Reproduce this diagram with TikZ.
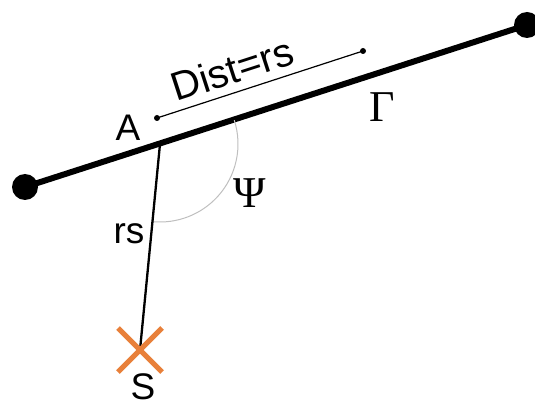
\documentclass[tikz,border=0pt]{standalone}
\usepackage{fontspec}
\setmainfont{Liberation Sans}
\newfontfamily\greekfont{Liberation Serif}
\usetikzlibrary{calc}

\definecolor{crossorange}{RGB}{232,128,58}

\begin{document}
\begin{tikzpicture}[x=1pt, y=1pt,
					gammaline/.style={line width=6pt},
					endpoint/.style={circle, fill=black, inner sep=0pt, minimum size=26pt},
					rayline/.style={line width=2.3pt},
					distline/.style={line width=1.2pt},
					tickdot/.style={circle, fill=black, inner sep=0pt, minimum size=6pt},
					anglearc/.style={black!25, line width=1pt},
					crossmark/.style={crossorange, line width=5pt},
					lbl/.style={font=\fontsize{37}{40}\selectfont, inner sep=0pt},
					greeklbl/.style={font=\greekfont\fontsize{44}{48}\selectfont, inner sep=0pt}
				]
				\useasboundingbox (0,0) rectangle (535,410);

				% Parámetros de geometría
				\def\radpsi{78}  % radio del arco Psi
				\def\cw{22}      % semiancho de la cruz

				% --- Puntos ---
				\coordinate (P1) at (25,223);
				\coordinate (P2) at (527,385);
				\coordinate (A)  at (160,266);
				\coordinate (S)  at (140,60);
				\coordinate (D1) at (157,292);
				\coordinate (D2) at (363,359);

				% --- Recta Gamma ---
				\draw[gammaline] (P1) -- (P2);
				\node[endpoint] (E1) at (P1) {};
				\node[endpoint] (E2) at (P2) {};
				\node[greeklbl] (gamma) at (382,303) {Γ};

				% --- Arco Psi ---
				\draw[anglearc] (A) ++(17.8:\radpsi) arc[start angle=17.8, end angle=-95.5, radius=\radpsi];
				\node[greeklbl] (psi) at (250,217) {Ψ};

				% --- Segmento rs ---
				\draw[rayline] (A) -- (S);
				\node[lbl] (rs) at (129,176) {rs};
				\node[lbl] (labA) at (128,282) {A};

				% --- Cruz S ---
				\draw[crossmark] ($(S)+(-\cw,\cw)$) -- ($(S)+(\cw,-\cw)$);
				\draw[crossmark] ($(S)+(-\cw,-\cw)$) -- ($(S)+(\cw,\cw)$);
				\node[lbl] (labS) at (143,23) {S};

				% --- Distancia ---
				\draw[distline] (D1) -- (D2);
				\node[tickdot] (t1) at (D1) {};
				\node[tickdot] (t2) at (D2) {};
				\node[lbl, rotate=18, font=\fontsize{40}{44}\selectfont] (dist) at (232,341) {Dist=rs};

			\end{tikzpicture}
\end{document}
